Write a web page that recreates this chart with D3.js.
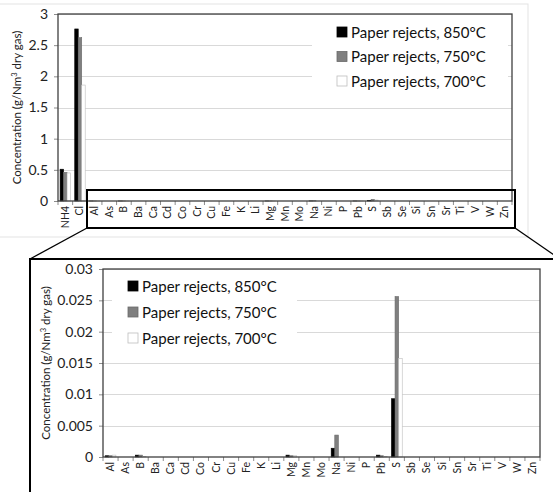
<!DOCTYPE html>
<html>
<head>
<meta charset="utf-8">
<script src="https://cdn.jsdelivr.net/npm/d3@7/dist/d3.min.js"></script>
<style>
  body { margin: 0; background: #fff; }
  svg { display: block; font-family: Lato, "Open Sans", sans-serif; }
</style>
</head>
<body>
<svg id="chart" width="553" height="492"></svg>
<script>
// categories (top chart shows all, zoomed chart drops NH4 and Cl)
const categories = ["NH4", "Cl", "Al", "As", "B", "Ba", "Ca", "Cd", "Co", "Cr", "Cu", "Fe", "K", "Li",
  "Mg", "Mn", "Mo", "Na", "Ni", "P", "Pb", "S", "Sb", "Se", "Si", "Sn", "Sr", "Ti", "V", "W", "Zn"];
const zoomCategories = categories.slice(2);

const seriesNames = ["Paper rejects, 850°C", "Paper rejects, 750°C", "Paper rejects, 700°C"];

// g/Nm3 dry gas, same order as categories
const values850 = [0.51, 2.76, 0.0002, 0, 0.0003, 0, 0, 0, 0, 0, 0, 0, 0, 0,
  0.0003, 0, 0, 0.0014, 0, 0, 0.0003, 0.0093, 0, 0, 0, 0, 0, 0, 0, 0, 0];
const values750 = [0.46, 2.62, 0.0002, 0, 0.0003, 0, 0, 0, 0, 0, 0, 0, 0, 0,
  0.0002, 0, 0, 0.0035, 0, 0, 0.0002, 0.0256, 0, 0, 0, 0, 0, 0, 0, 0, 0];
const values700 = [0.45, 1.86, 0.0003, 0, 0.0001, 0, 0, 0, 0, 0, 0, 0, 0, 0,
  0.0002, 0, 0, 0, 0, 0, 0.0001, 0.0157, 0, 0, 0, 0, 0, 0, 0, 0, 0];

const topTicks = [0, 0.5, 1, 1.5, 2, 2.5, 3];
const zoomTicks = [0, 0.005, 0.01, 0.015, 0.02, 0.025, 0.03];

const fills = ["#000000", "#7f7f7f", "#ffffff"];
const strokes = ["#000000", "#6a6a6a", "#bdbdbd"];

const svg = d3.select("#chart");

function drawChart(opts) {
  const { cats, startIdx, ticks, box, legend, yTitleX } = opts;
  const g = svg.append("g");

  const x = d3.scaleBand().domain(cats).range([box.left, box.right]).paddingInner(0).paddingOuter(0);
  const y = d3.scaleLinear().domain([0, ticks[ticks.length - 1]]).range([box.bottom, box.top]);
  const xs = d3.scaleBand().domain([0, 1, 2]).range([0, x.bandwidth()]).paddingOuter(0.6).paddingInner(0);

  // gridlines
  g.selectAll(".grid").data(ticks.slice(1)).enter().append("line")
    .attr("x1", box.left).attr("x2", box.right)
    .attr("y1", d => Math.round(y(d)) + 0.5).attr("y2", d => Math.round(y(d)) + 0.5)
    .attr("stroke", "#d9d9d9").attr("stroke-width", 1.2);

  // legend background hides the gridlines
  g.append("rect")
    .attr("x", legend.bgX).attr("y", legend.bgY)
    .attr("width", legend.bgW).attr("height", legend.bgH)
    .attr("fill", "#fff");

  // bars
  const rows = cats.map((c, i) => ({
    cat: c,
    vals: [values850[i + startIdx], values750[i + startIdx], values700[i + startIdx]]
  }));
  rows.forEach(r => {
    r.vals.forEach((v, s) => {
      if (v <= 0) return;
      g.append("rect")
        .attr("x", x(r.cat) + xs(s))
        .attr("y", y(v))
        .attr("width", xs.bandwidth())
        .attr("height", box.bottom - y(v))
        .attr("fill", fills[s])
        .attr("stroke", strokes[s])
        .attr("stroke-width", 0.6);
    });
  });

  // y axis ticks + labels
  const yAxis = g.append("g")
    .attr("transform", `translate(${box.left},0)`)
    .call(d3.axisLeft(y).tickValues(ticks).tickSize(4).tickPadding(6).tickFormat(d3.format("~g")));
  yAxis.select(".domain").remove();
  yAxis.selectAll("line").attr("stroke", "#8c8c8c");
  yAxis.selectAll("text").attr("font-size", 14).attr("fill", "#222")
    .attr("font-family", "Lato, sans-serif");

  // x ticks at category boundaries
  const edges = cats.map(c => x(c)).concat([box.right]);
  g.selectAll(".xt").data(edges).enter().append("line")
    .attr("x1", d => d).attr("x2", d => d)
    .attr("y1", box.bottom).attr("y2", box.bottom + 4)
    .attr("stroke", "#8c8c8c");

  // category labels
  g.selectAll(".xl").data(cats).enter().append("text")
    .attr("transform", d => `translate(${x(d) + x.bandwidth() / 2 + 3.5},${box.bottom + 5}) rotate(-90)`)
    .attr("text-anchor", "end")
    .attr("font-size", 10.5)
    .attr("fill", "#222")
    .text(d => d);

  // plot border
  g.append("rect")
    .attr("x", box.left).attr("y", box.top)
    .attr("width", box.right - box.left).attr("height", box.bottom - box.top)
    .attr("fill", "none").attr("stroke", "#404040").attr("stroke-width", 1.3);

  // axis title
  const t = g.append("text")
    .attr("transform", `translate(${yTitleX},${(box.top + box.bottom) / 2}) rotate(-90)`)
    .attr("text-anchor", "middle")
    .attr("font-size", 11.5)
    .attr("fill", "#222");
  t.append("tspan").text("Concentration (g/Nm");
  t.append("tspan").attr("font-size", 7.5).attr("dy", -4).text("3");
  t.append("tspan").attr("dy", 4).text(" dry gas)");

  // legend
  const lg = g.selectAll(".lg").data(seriesNames).enter().append("g")
    .attr("transform", (d, i) => `translate(${legend.x},${legend.y + i * legend.step})`);
  lg.append("rect")
    .attr("x", 0).attr("y", -5).attr("width", 10).attr("height", 10)
    .attr("fill", (d, i) => fills[i]).attr("stroke", (d, i) => strokes[i]).attr("stroke-width", 0.8);
  lg.append("text")
    .attr("x", 14).attr("y", 5.5)
    .attr("font-size", 15)
    .attr("fill", "#111")
    .text(d => d);
}

// faint outer border of the top chart
svg.append("rect").attr("x", -2).attr("y", 4).attr("width", 530).attr("height", 233)
  .attr("fill", "none").attr("stroke", "#e3e3e3");

drawChart({
  cats: categories, startIdx: 0, ticks: topTicks,
  box: { left: 58, right: 512, top: 14, bottom: 201 },
  legend: { x: 337, y: 32, step: 24.5, bgX: 312, bgY: 18, bgW: 196, bgH: 78 },
  yTitleX: 21
});

drawChart({
  cats: zoomCategories, startIdx: 2, ticks: zoomTicks,
  box: { left: 103, right: 540, top: 269, bottom: 457 },
  legend: { x: 128, y: 286, step: 26, bgX: 112, bgY: 272, bgW: 185, bgH: 80 },
  yTitleX: 50
});

// zoom frame: highlight box on top chart, connector lines, and frame around lower chart
const frame = svg.append("g").attr("fill", "none").attr("stroke", "#000");
frame.append("rect").attr("x", 87).attr("y", 190).attr("width", 428).attr("height", 38).attr("stroke-width", 2);
frame.append("line").attr("x1", 87).attr("y1", 228).attr("x2", 30).attr("y2", 259).attr("stroke-width", 1.3);
frame.append("line").attr("x1", 515).attr("y1", 228).attr("x2", 560).attr("y2", 259).attr("stroke-width", 1.3);
frame.append("polyline").attr("points", "30,500 30,259 560,259").attr("stroke-width", 2);
</script>
</body>
</html>
